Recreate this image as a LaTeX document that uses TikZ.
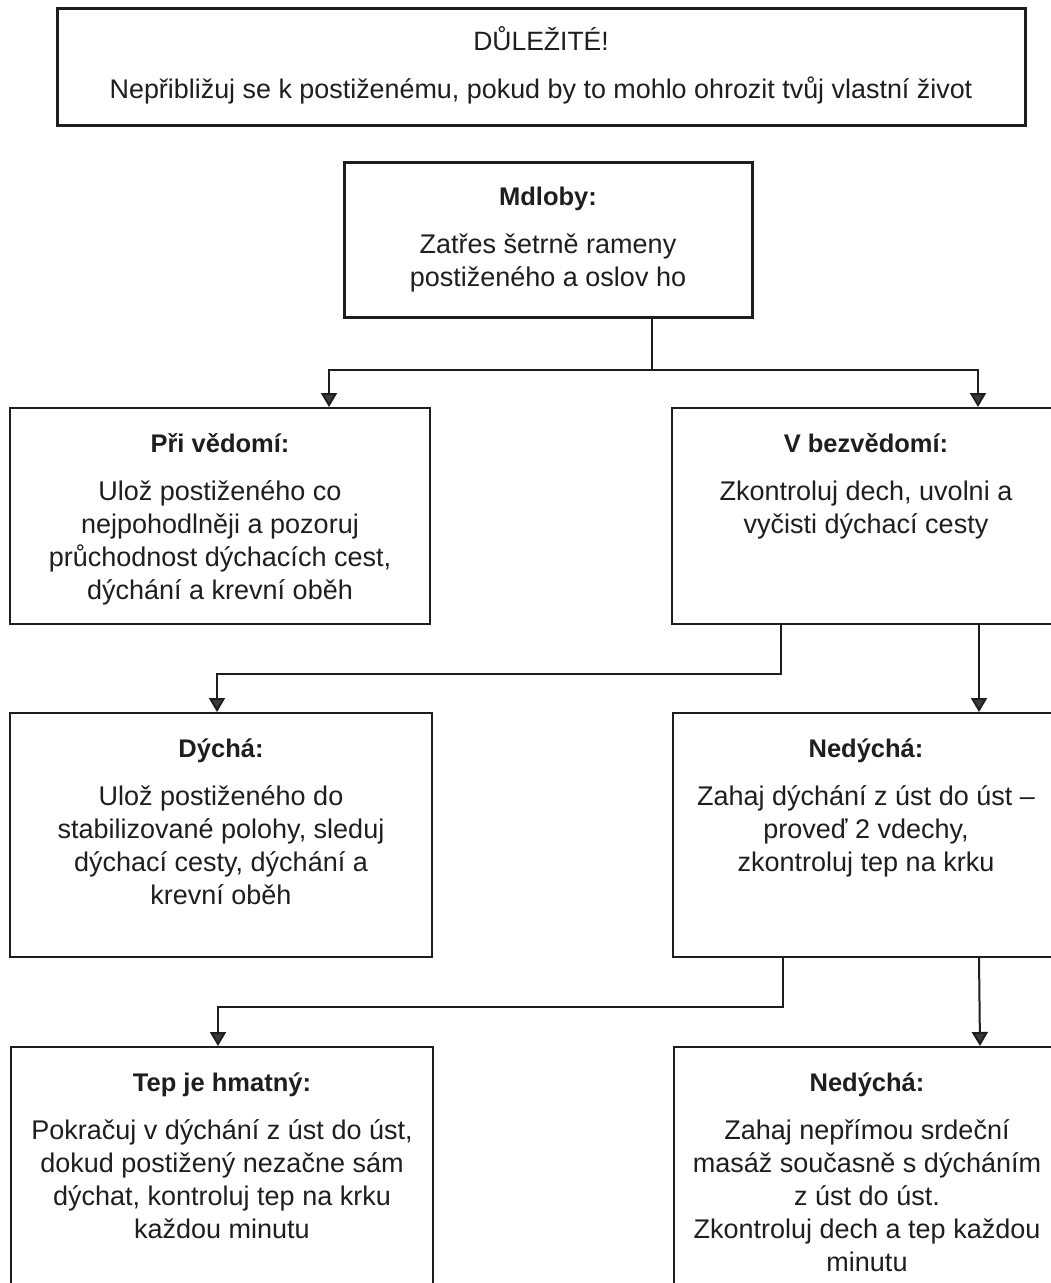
\documentclass[tikz,border=0pt]{standalone}
\usepackage{fontspec}
\setmainfont{Liberation Sans}
\usetikzlibrary{arrows.meta,calc}
\definecolor{ink}{HTML}{1E1E1E}
\definecolor{tipgray}{HTML}{3A3A3A}
\newcommand\boxhead[1]{\rule{0pt}{24pt}{\bfseries\fontsize{25.5}{33}\selectfont #1}}
\begin{document}
\begin{tikzpicture}[x=1pt,y=-1pt,
  box/.style={draw=ink, line width=2pt, rectangle, inner sep=0pt},
  thickbox/.style={box, line width=3pt},
  txt/.style={align=center, inner sep=0pt, text=ink, anchor=north,
    font=\fontsize{27}{33}\selectfont},
  arr/.style={draw=ink, line width=2pt,
    -{Triangle[width=16pt,length=14pt,fill=tipgray]}}]
\useasboundingbox (0,0) rectangle (1051,1283);
\fill[white] (0,0) rectangle (1051,1283);
\clip (0,0) rectangle (1051,1283);

% boxes
\node[thickbox, minimum width=968pt, minimum height=117pt] (warn) at (541,66.5) {};
\node[thickbox, minimum width=408pt, minimum height=155pt] (mdl) at (548,239.5) {};
\node[box, minimum width=420pt, minimum height=216pt] (pri) at (220,516) {};
\node[box, minimum width=388pt, minimum height=216pt] (bez) at (866,516) {};
\node[box, minimum width=422pt, minimum height=244pt] (dy) at (221,835) {};
\node[box, minimum width=386pt, minimum height=244pt] (ne) at (866,835) {};
\node[box, minimum width=422pt, minimum height=248pt] (tep) at (222,1171) {};
\node[box, minimum width=386pt, minimum height=248pt] (ne2) at (867,1171) {};

% texts
\node[txt, font=\fontsize{26.5}{48}\selectfont] (twarn) at ([yshift=-20pt]warn.north)
  {\rule{0pt}{24pt}DŮLEŽITÉ!\\ {\fontsize{26.9}{48}\selectfont Nepřibližuj se k postiženému, pokud by to mohlo ohrozit tvůj vlastní život}};
\node[txt] (tmdl) at ([yshift=-21pt]mdl.north)
  {\boxhead{Mdloby:}\\[15pt] Zatřes šetrně rameny\\ postiženého a oslov ho};
\node[txt] (tpri) at ([yshift=-21pt]pri.north)
  {\boxhead{Při vědomí:}\\[15pt] Ulož postiženého co\\ nejpohodlněji a pozoruj\\ průchodnost dýchacích cest,\\ dýchání a krevní oběh};
\node[txt] (tbez) at ([yshift=-21pt]bez.north)
  {\boxhead{V bezvědomí:}\\[15pt] Zkontroluj dech, uvolni a\\ vyčisti dýchací cesty};
\node[txt] (tdy) at ([yshift=-21pt]dy.north)
  {\boxhead{Dýchá:}\\[15pt] Ulož postiženého do\\ stabilizované polohy, sleduj\\ dýchací cesty, dýchání a\\ krevní oběh};
\node[txt] (tne) at ([yshift=-21pt]ne.north)
  {\boxhead{Nedýchá:}\\[15pt] Zahaj dýchání z úst do úst –\\ proveď 2 vdechy,\\ zkontroluj tep na krku};
\node[txt] (ttep) at ([yshift=-21pt]tep.north)
  {\boxhead{Tep je hmatný:}\\[15pt] Pokračuj v dýchání z úst do úst,\\ dokud postižený nezačne sám\\ dýchat, kontroluj tep na krku\\ každou minutu};
\node[txt] (tne2) at ([yshift=-21pt]ne2.north)
  {\boxhead{Nedýchá:}\\[15pt] Zahaj nepřímou srdeční\\ masáž současně s dýcháním\\ z úst do úst.\\ Zkontroluj dech a tep každou\\ minutu};

% entry / exit points
\coordinate (mdlOut) at ([xshift=104pt]mdl.south);
\coordinate (priIn) at ([xshift=109pt]pri.north);
\coordinate (bezIn) at ([xshift=112pt]bez.north);
\coordinate (bezOutL) at ([xshift=-85pt]bez.south);
\coordinate (bezOutR) at ([xshift=113pt]bez.south);
\coordinate (dyIn) at ([xshift=-4pt]dy.north);
\coordinate (neIn) at ([xshift=113pt]ne.north);
\coordinate (neOutL) at ([xshift=-83pt]ne.south);
\coordinate (neOutR) at ([xshift=113pt]ne.south);
\coordinate (tepIn) at ([xshift=-4pt]tep.north);
\coordinate (ne2In) at ([xshift=113pt]ne2.north);

% connectors
\draw[arr] (mdlOut) -- ++(0,51) -| (priIn);
\draw[arr] (mdlOut) -- ++(0,51) -| (bezIn);
\draw[arr] (bezOutL) -- ++(0,49) -| (dyIn);
\draw[arr] (bezOutR) -- (neIn);
\draw[arr] (neOutL) -- ++(0,49) -| (tepIn);
\draw[arr] (neOutR) -- (ne2In);
\end{tikzpicture}
\end{document}
